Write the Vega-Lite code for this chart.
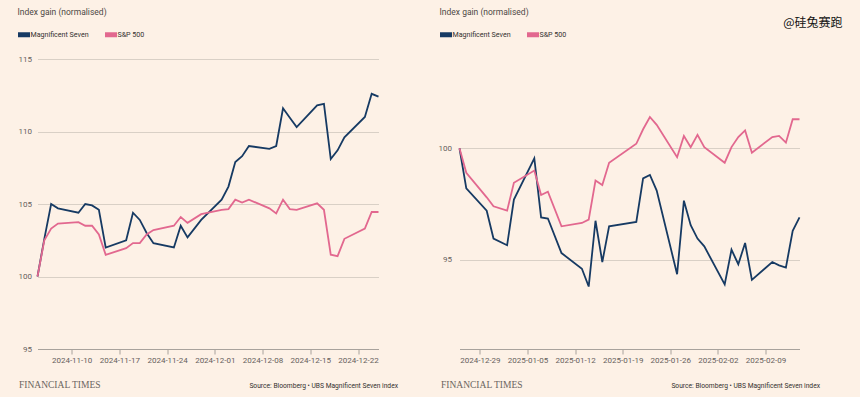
{
  "$schema": "https://vega.github.io/schema/vega-lite/v6.json",
  "background": "#fdf1e6",
  "padding": {"left": 15.5, "top": 7, "right": 18, "bottom": 8},
  "title": {"text": "@硅兔赛跑", "anchor": "end", "frame": "bounds", "font": "Noto Sans CJK SC", "fontSize": 12, "fontWeight": "normal", "color": "#111111", "dx": 23, "dy": 22, "offset": 0},
  "config": {
    "view": {"stroke": null},
    "font": "Roboto",
    "axis": {"labelFont": "Roboto", "labelColor": "#66605c", "labelFontSize": 8, "gridColor": "#d9d0c6", "gridWidth": 1, "domainColor": "#a8a29c", "tickColor": "#a8a29c"}
  },
  "bounds": "flush",
  "spacing": 81,
  "resolve": {"scale": {"color": "independent"}},
  "hconcat": [
    {
      "width": 341,
      "height": 290,
      "title": {"text": "Index gain (normalised)", "anchor": "start", "frame": "bounds", "offset": 10, "fontSize": 8.5, "fontWeight": "normal", "color": "#4d4845", "font": "Roboto", "dx": 2},
      "data": {"values": [
        {"date": "2024-11-05T00:00:00", "series": "Magnificent Seven", "value": 100},
        {"date": "2024-11-06T00:00:00", "series": "Magnificent Seven", "value": 102.6},
        {"date": "2024-11-07T00:00:00", "series": "Magnificent Seven", "value": 105.0},
        {"date": "2024-11-08T00:00:00", "series": "Magnificent Seven", "value": 104.7},
        {"date": "2024-11-11T00:00:00", "series": "Magnificent Seven", "value": 104.4},
        {"date": "2024-11-12T00:00:00", "series": "Magnificent Seven", "value": 105.0},
        {"date": "2024-11-13T00:00:00", "series": "Magnificent Seven", "value": 104.9},
        {"date": "2024-11-14T00:00:00", "series": "Magnificent Seven", "value": 104.6},
        {"date": "2024-11-15T00:00:00", "series": "Magnificent Seven", "value": 102.0},
        {"date": "2024-11-18T00:00:00", "series": "Magnificent Seven", "value": 102.5},
        {"date": "2024-11-19T00:00:00", "series": "Magnificent Seven", "value": 104.4},
        {"date": "2024-11-20T00:00:00", "series": "Magnificent Seven", "value": 103.9},
        {"date": "2024-11-21T00:00:00", "series": "Magnificent Seven", "value": 103.0},
        {"date": "2024-11-22T00:00:00", "series": "Magnificent Seven", "value": 102.3},
        {"date": "2024-11-25T00:00:00", "series": "Magnificent Seven", "value": 102.0},
        {"date": "2024-11-26T00:00:00", "series": "Magnificent Seven", "value": 103.5},
        {"date": "2024-11-27T00:00:00", "series": "Magnificent Seven", "value": 102.7},
        {"date": "2024-11-29T00:00:00", "series": "Magnificent Seven", "value": 103.9},
        {"date": "2024-12-02T00:00:00", "series": "Magnificent Seven", "value": 105.3},
        {"date": "2024-12-03T00:00:00", "series": "Magnificent Seven", "value": 106.2},
        {"date": "2024-12-04T00:00:00", "series": "Magnificent Seven", "value": 107.9},
        {"date": "2024-12-05T00:00:00", "series": "Magnificent Seven", "value": 108.3},
        {"date": "2024-12-06T00:00:00", "series": "Magnificent Seven", "value": 109.0},
        {"date": "2024-12-09T00:00:00", "series": "Magnificent Seven", "value": 108.8},
        {"date": "2024-12-10T00:00:00", "series": "Magnificent Seven", "value": 109.0},
        {"date": "2024-12-11T00:00:00", "series": "Magnificent Seven", "value": 111.6},
        {"date": "2024-12-12T00:00:00", "series": "Magnificent Seven", "value": 110.95},
        {"date": "2024-12-13T00:00:00", "series": "Magnificent Seven", "value": 110.3},
        {"date": "2024-12-16T00:00:00", "series": "Magnificent Seven", "value": 111.8},
        {"date": "2024-12-17T00:00:00", "series": "Magnificent Seven", "value": 111.9},
        {"date": "2024-12-18T00:00:00", "series": "Magnificent Seven", "value": 108.1},
        {"date": "2024-12-19T00:00:00", "series": "Magnificent Seven", "value": 108.7},
        {"date": "2024-12-20T00:00:00", "series": "Magnificent Seven", "value": 109.6},
        {"date": "2024-12-23T00:00:00", "series": "Magnificent Seven", "value": 111.0},
        {"date": "2024-12-24T00:00:00", "series": "Magnificent Seven", "value": 112.6},
        {"date": "2024-12-25T00:00:00", "series": "Magnificent Seven", "value": 112.4},
        {"date": "2024-11-05T00:00:00", "series": "S&P 500", "value": 100},
        {"date": "2024-11-06T00:00:00", "series": "S&P 500", "value": 102.5},
        {"date": "2024-11-07T00:00:00", "series": "S&P 500", "value": 103.3},
        {"date": "2024-11-08T00:00:00", "series": "S&P 500", "value": 103.65},
        {"date": "2024-11-11T00:00:00", "series": "S&P 500", "value": 103.75},
        {"date": "2024-11-12T00:00:00", "series": "S&P 500", "value": 103.5},
        {"date": "2024-11-13T00:00:00", "series": "S&P 500", "value": 103.5},
        {"date": "2024-11-14T00:00:00", "series": "S&P 500", "value": 102.9},
        {"date": "2024-11-15T00:00:00", "series": "S&P 500", "value": 101.5},
        {"date": "2024-11-18T00:00:00", "series": "S&P 500", "value": 101.95},
        {"date": "2024-11-19T00:00:00", "series": "S&P 500", "value": 102.3},
        {"date": "2024-11-20T00:00:00", "series": "S&P 500", "value": 102.3},
        {"date": "2024-11-21T00:00:00", "series": "S&P 500", "value": 102.9},
        {"date": "2024-11-22T00:00:00", "series": "S&P 500", "value": 103.2},
        {"date": "2024-11-25T00:00:00", "series": "S&P 500", "value": 103.5},
        {"date": "2024-11-26T00:00:00", "series": "S&P 500", "value": 104.1},
        {"date": "2024-11-27T00:00:00", "series": "S&P 500", "value": 103.7},
        {"date": "2024-11-29T00:00:00", "series": "S&P 500", "value": 104.3},
        {"date": "2024-12-02T00:00:00", "series": "S&P 500", "value": 104.6},
        {"date": "2024-12-03T00:00:00", "series": "S&P 500", "value": 104.65},
        {"date": "2024-12-04T00:00:00", "series": "S&P 500", "value": 105.3},
        {"date": "2024-12-05T00:00:00", "series": "S&P 500", "value": 105.1},
        {"date": "2024-12-06T00:00:00", "series": "S&P 500", "value": 105.3},
        {"date": "2024-12-09T00:00:00", "series": "S&P 500", "value": 104.7},
        {"date": "2024-12-10T00:00:00", "series": "S&P 500", "value": 104.35},
        {"date": "2024-12-11T00:00:00", "series": "S&P 500", "value": 105.3},
        {"date": "2024-12-12T00:00:00", "series": "S&P 500", "value": 104.65},
        {"date": "2024-12-13T00:00:00", "series": "S&P 500", "value": 104.6},
        {"date": "2024-12-16T00:00:00", "series": "S&P 500", "value": 105.05},
        {"date": "2024-12-17T00:00:00", "series": "S&P 500", "value": 104.6},
        {"date": "2024-12-18T00:00:00", "series": "S&P 500", "value": 101.5},
        {"date": "2024-12-19T00:00:00", "series": "S&P 500", "value": 101.4},
        {"date": "2024-12-20T00:00:00", "series": "S&P 500", "value": 102.6},
        {"date": "2024-12-23T00:00:00", "series": "S&P 500", "value": 103.3},
        {"date": "2024-12-24T00:00:00", "series": "S&P 500", "value": 104.45},
        {"date": "2024-12-25T00:00:00", "series": "S&P 500", "value": 104.45}
      ]},
      "mark": {"type": "line", "strokeWidth": 1.8},
      "encoding": {
        "x": {
          "field": "date", "type": "temporal",
          "scale": {"domain": [{"year": 2024, "month": 11, "date": 5}, {"year": 2024, "month": 12, "date": 25}]},
          "axis": {
            "values": [{"year": 2024, "month": 11, "date": 10}, {"year": 2024, "month": 11, "date": 17}, {"year": 2024, "month": 11, "date": 24}, {"year": 2024, "month": 12, "date": 1}, {"year": 2024, "month": 12, "date": 8}, {"year": 2024, "month": 12, "date": 15}, {"year": 2024, "month": 12, "date": 22}],
            "format": "%Y-%m-%d", "grid": false, "tickSize": 5, "labelPadding": 2, "labelFlush": false, "labelOverlap": false,
            "title": "Source: Bloomberg • UBS Magnificent Seven index", "titleX": 360, "titleY": 36, "titleAlign": "right", "titleBaseline": "middle", "titleFont": "Roboto", "titleFontSize": 6.7, "titleFontWeight": "normal", "titleColor": "#33302e"
          }
        },
        "y": {
          "field": "value", "type": "quantitative",
          "scale": {"domain": [95, 115], "nice": false, "zero": false},
          "axis": {
            "values": [95, 100, 105, 110, 115], "domain": false, "ticks": false, "labelPadding": 6,
            "title": "FINANCIAL TIMES", "titleAngle": 0, "titleX": -19, "titleY": 325.5, "titleAlign": "left", "titleBaseline": "middle", "titleFont": "Liberation Serif", "titleFontSize": 9.5, "titleFontWeight": "normal", "titleColor": "#6b6560"
          }
        },
        "color": {
          "field": "series", "type": "nominal",
          "scale": {"domain": ["Magnificent Seven", "S&P 500"], "range": ["#163a63", "#e2688f"]},
          "legend": {"orient": "none", "legendX": -22, "legendY": -33, "direction": "horizontal", "title": null, "symbolType": "stroke", "symbolSize": 144, "symbolStrokeWidth": 5, "labelFont": "Roboto", "labelFontSize": 7.1, "labelColor": "#33302e", "labelOffset": -2, "columnPadding": 5, "symbolOffset": 0, "padding": 0}
        }
      }
    },
    {
      "width": 340,
      "height": 290,
      "title": {"text": "Index gain (normalised)", "anchor": "start", "frame": "bounds", "offset": 10, "fontSize": 8.5, "fontWeight": "normal", "color": "#4d4845", "font": "Roboto", "dx": 2},
      "data": {"values": [
        {"date": "2024-12-26T00:00:00", "series": "Magnificent Seven", "value": 100},
        {"date": "2024-12-27T00:00:00", "series": "Magnificent Seven", "value": 98.2},
        {"date": "2024-12-30T00:00:00", "series": "Magnificent Seven", "value": 97.2},
        {"date": "2024-12-31T00:00:00", "series": "Magnificent Seven", "value": 95.95},
        {"date": "2025-01-02T00:00:00", "series": "Magnificent Seven", "value": 95.65},
        {"date": "2025-01-03T00:00:00", "series": "Magnificent Seven", "value": 97.7},
        {"date": "2025-01-06T00:00:00", "series": "Magnificent Seven", "value": 99.55},
        {"date": "2025-01-07T00:00:00", "series": "Magnificent Seven", "value": 96.9},
        {"date": "2025-01-08T00:00:00", "series": "Magnificent Seven", "value": 96.85},
        {"date": "2025-01-10T00:00:00", "series": "Magnificent Seven", "value": 95.3},
        {"date": "2025-01-13T00:00:00", "series": "Magnificent Seven", "value": 94.6},
        {"date": "2025-01-14T00:00:00", "series": "Magnificent Seven", "value": 93.8},
        {"date": "2025-01-15T00:00:00", "series": "Magnificent Seven", "value": 96.75},
        {"date": "2025-01-16T00:00:00", "series": "Magnificent Seven", "value": 94.9},
        {"date": "2025-01-17T00:00:00", "series": "Magnificent Seven", "value": 96.5},
        {"date": "2025-01-21T00:00:00", "series": "Magnificent Seven", "value": 96.7},
        {"date": "2025-01-22T00:00:00", "series": "Magnificent Seven", "value": 98.65},
        {"date": "2025-01-23T00:00:00", "series": "Magnificent Seven", "value": 98.8},
        {"date": "2025-01-24T00:00:00", "series": "Magnificent Seven", "value": 98.1},
        {"date": "2025-01-27T00:00:00", "series": "Magnificent Seven", "value": 94.35},
        {"date": "2025-01-28T00:00:00", "series": "Magnificent Seven", "value": 97.65},
        {"date": "2025-01-29T00:00:00", "series": "Magnificent Seven", "value": 96.55},
        {"date": "2025-01-30T00:00:00", "series": "Magnificent Seven", "value": 95.95},
        {"date": "2025-01-31T00:00:00", "series": "Magnificent Seven", "value": 95.6},
        {"date": "2025-02-03T00:00:00", "series": "Magnificent Seven", "value": 93.9},
        {"date": "2025-02-04T00:00:00", "series": "Magnificent Seven", "value": 95.45},
        {"date": "2025-02-05T00:00:00", "series": "Magnificent Seven", "value": 94.8},
        {"date": "2025-02-06T00:00:00", "series": "Magnificent Seven", "value": 95.75},
        {"date": "2025-02-07T00:00:00", "series": "Magnificent Seven", "value": 94.1},
        {"date": "2025-02-10T00:00:00", "series": "Magnificent Seven", "value": 94.9},
        {"date": "2025-02-11T00:00:00", "series": "Magnificent Seven", "value": 94.75},
        {"date": "2025-02-12T00:00:00", "series": "Magnificent Seven", "value": 94.65},
        {"date": "2025-02-13T00:00:00", "series": "Magnificent Seven", "value": 96.3},
        {"date": "2025-02-14T00:00:00", "series": "Magnificent Seven", "value": 96.9},
        {"date": "2024-12-26T00:00:00", "series": "S&P 500", "value": 100},
        {"date": "2024-12-27T00:00:00", "series": "S&P 500", "value": 98.9},
        {"date": "2024-12-30T00:00:00", "series": "S&P 500", "value": 97.8},
        {"date": "2024-12-31T00:00:00", "series": "S&P 500", "value": 97.4},
        {"date": "2025-01-02T00:00:00", "series": "S&P 500", "value": 97.2},
        {"date": "2025-01-03T00:00:00", "series": "S&P 500", "value": 98.45},
        {"date": "2025-01-06T00:00:00", "series": "S&P 500", "value": 99.0},
        {"date": "2025-01-07T00:00:00", "series": "S&P 500", "value": 97.9},
        {"date": "2025-01-08T00:00:00", "series": "S&P 500", "value": 98.05},
        {"date": "2025-01-10T00:00:00", "series": "S&P 500", "value": 96.5},
        {"date": "2025-01-13T00:00:00", "series": "S&P 500", "value": 96.65},
        {"date": "2025-01-14T00:00:00", "series": "S&P 500", "value": 96.8},
        {"date": "2025-01-15T00:00:00", "series": "S&P 500", "value": 98.55},
        {"date": "2025-01-16T00:00:00", "series": "S&P 500", "value": 98.35},
        {"date": "2025-01-17T00:00:00", "series": "S&P 500", "value": 99.35},
        {"date": "2025-01-21T00:00:00", "series": "S&P 500", "value": 100.2},
        {"date": "2025-01-22T00:00:00", "series": "S&P 500", "value": 100.85},
        {"date": "2025-01-23T00:00:00", "series": "S&P 500", "value": 101.4},
        {"date": "2025-01-24T00:00:00", "series": "S&P 500", "value": 101.05},
        {"date": "2025-01-27T00:00:00", "series": "S&P 500", "value": 99.6},
        {"date": "2025-01-28T00:00:00", "series": "S&P 500", "value": 100.55},
        {"date": "2025-01-29T00:00:00", "series": "S&P 500", "value": 100.05},
        {"date": "2025-01-30T00:00:00", "series": "S&P 500", "value": 100.6},
        {"date": "2025-01-31T00:00:00", "series": "S&P 500", "value": 100.05},
        {"date": "2025-02-03T00:00:00", "series": "S&P 500", "value": 99.35},
        {"date": "2025-02-04T00:00:00", "series": "S&P 500", "value": 100.05},
        {"date": "2025-02-05T00:00:00", "series": "S&P 500", "value": 100.5},
        {"date": "2025-02-06T00:00:00", "series": "S&P 500", "value": 100.8},
        {"date": "2025-02-07T00:00:00", "series": "S&P 500", "value": 99.8},
        {"date": "2025-02-10T00:00:00", "series": "S&P 500", "value": 100.5},
        {"date": "2025-02-11T00:00:00", "series": "S&P 500", "value": 100.55},
        {"date": "2025-02-12T00:00:00", "series": "S&P 500", "value": 100.25},
        {"date": "2025-02-13T00:00:00", "series": "S&P 500", "value": 101.3},
        {"date": "2025-02-14T00:00:00", "series": "S&P 500", "value": 101.3}
      ]},
      "mark": {"type": "line", "strokeWidth": 1.8},
      "encoding": {
        "x": {
          "field": "date", "type": "temporal",
          "scale": {"domain": [{"year": 2024, "month": 12, "date": 26}, {"year": 2025, "month": 2, "date": 14}]},
          "axis": {
            "values": [{"year": 2024, "month": 12, "date": 29}, {"year": 2025, "month": 1, "date": 5}, {"year": 2025, "month": 1, "date": 12}, {"year": 2025, "month": 1, "date": 19}, {"year": 2025, "month": 1, "date": 26}, {"year": 2025, "month": 2, "date": 2}, {"year": 2025, "month": 2, "date": 9}],
            "format": "%Y-%m-%d", "grid": false, "tickSize": 5, "labelPadding": 2, "labelFlush": false, "labelOverlap": false,
            "title": "Source: Bloomberg • UBS Magnificent Seven index", "titleX": 360, "titleY": 36, "titleAlign": "right", "titleBaseline": "middle", "titleFont": "Roboto", "titleFontSize": 6.7, "titleFontWeight": "normal", "titleColor": "#33302e"
          }
        },
        "y": {
          "field": "value", "type": "quantitative",
          "scale": {"domain": [91, 104], "nice": false, "zero": false},
          "axis": {
            "values": [95, 100], "domain": false, "ticks": false, "labelPadding": 8,
            "title": "FINANCIAL TIMES", "titleAngle": 0, "titleX": -19, "titleY": 325.5, "titleAlign": "left", "titleBaseline": "middle", "titleFont": "Liberation Serif", "titleFontSize": 9.5, "titleFontWeight": "normal", "titleColor": "#6b6560"
          }
        },
        "color": {
          "field": "series", "type": "nominal",
          "scale": {"domain": ["Magnificent Seven", "S&P 500"], "range": ["#163a63", "#e2688f"]},
          "legend": {"orient": "none", "legendX": -22, "legendY": -33, "direction": "horizontal", "title": null, "symbolType": "stroke", "symbolSize": 144, "symbolStrokeWidth": 5, "labelFont": "Roboto", "labelFontSize": 7.1, "labelColor": "#33302e", "labelOffset": -2, "columnPadding": 5, "symbolOffset": 0, "padding": 0}
        }
      }
    }
  ]
}
